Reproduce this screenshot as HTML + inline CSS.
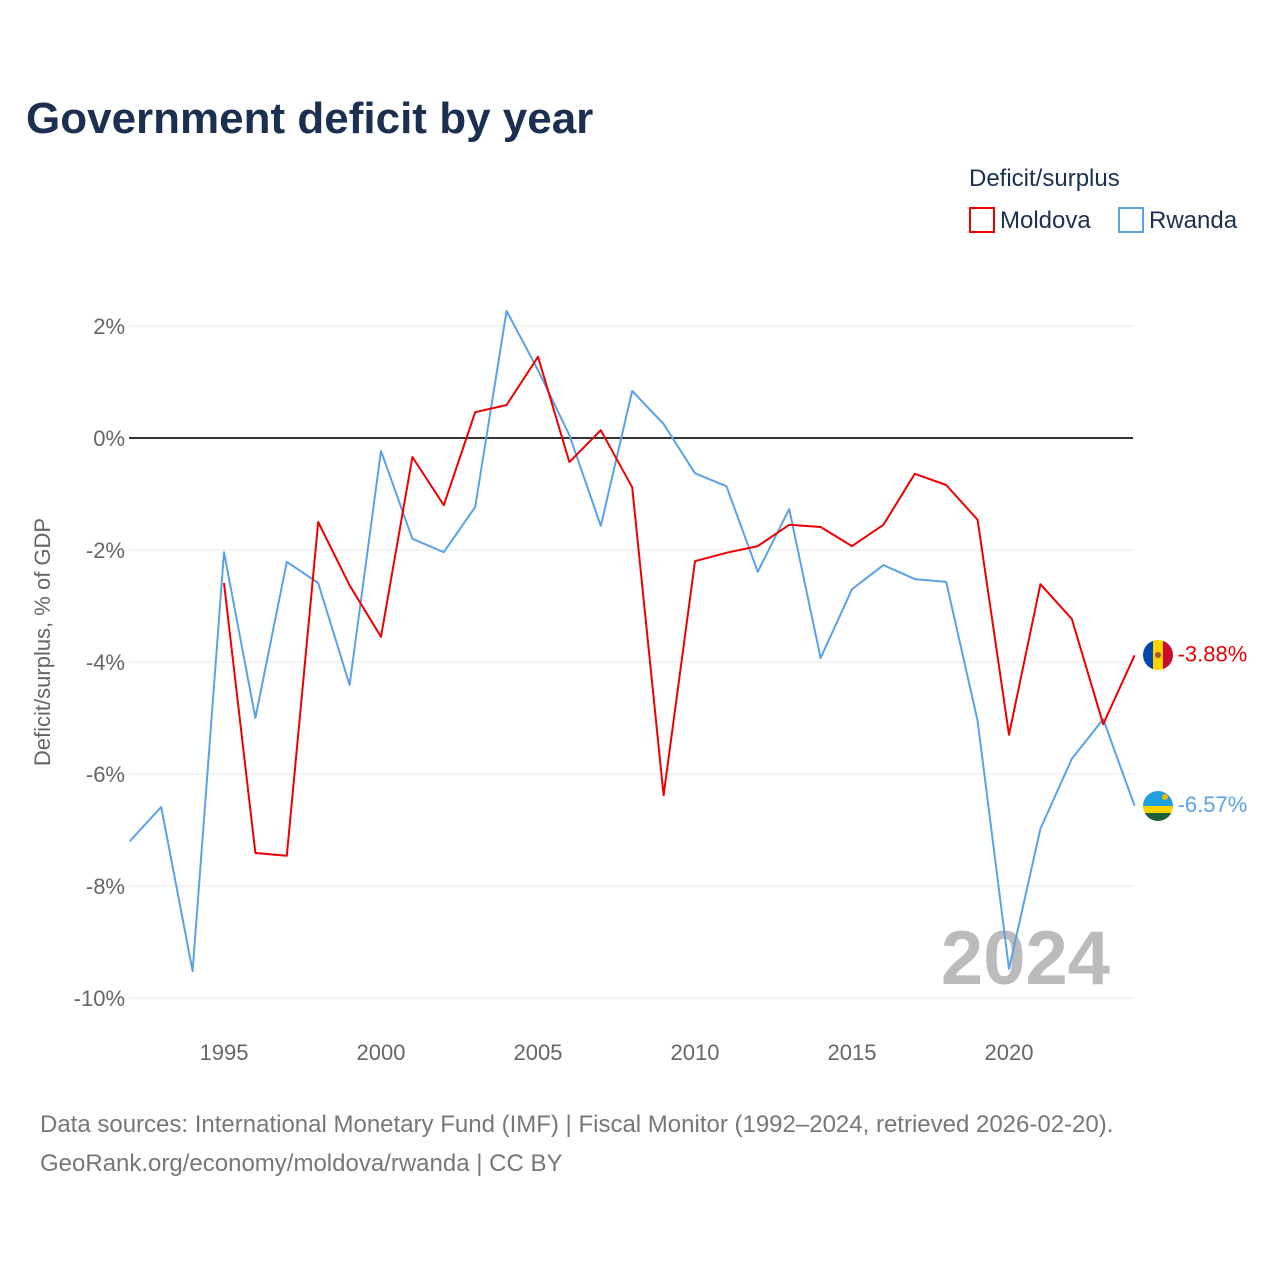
<!DOCTYPE html>
<html><head><meta charset="utf-8">
<style>
body{margin:0;background:#fff;font-family:"Liberation Sans",sans-serif;}
#wrap{position:relative;width:1280px;height:1280px;overflow:hidden;}
</style></head>
<body>
<div id="wrap">
<svg id="chart" width="1280" height="1280" xmlns="http://www.w3.org/2000/svg">
<defs>
<clipPath id="cm"><circle cx="1158" cy="655" r="15"/></clipPath>
<clipPath id="cr"><circle cx="1158" cy="806" r="15"/></clipPath>
</defs>
<text x="26" y="133" font-size="44" font-weight="bold" fill="#1b3050">Government deficit by year</text>
<text x="969" y="186" font-size="24" fill="#1b3050">Deficit/surplus</text>
<g><rect x="970" y="208" width="24" height="24" fill="none" stroke="#ee0000" stroke-width="2"/><text x="1000" y="228" font-size="24" fill="#1b3050">Moldova</text></g>
<g><rect x="1119" y="208" width="24" height="24" fill="none" stroke="#5aa2e8" stroke-width="2"/><text x="1149" y="228" font-size="24" fill="#1b3050">Rwanda</text></g>
<text transform="translate(50,642) rotate(-90)" text-anchor="middle" font-size="22" fill="#666">Deficit/surplus, % of GDP</text>
<g id="grid"></g>
<text x="1110" y="984" text-anchor="end" font-size="76" font-weight="bold" fill="#bbb">2024</text>
<g id="series"></g>
<g clip-path="url(#cm)">
<rect x="1143" y="640" width="10" height="30" fill="#0046ae"/><rect x="1153" y="640" width="10" height="30" fill="#ffd200"/><rect x="1163" y="640" width="10" height="30" fill="#cc092f"/>
<circle cx="1158" cy="655" r="3" fill="#a05a2c"/></g>
<g clip-path="url(#cr)">
<rect x="1143" y="791" width="30" height="15" fill="#20a0de"/><rect x="1143" y="806" width="30" height="7" fill="#fad201"/><rect x="1143" y="813" width="30" height="8" fill="#20603d"/>
<circle cx="1165" cy="797" r="3" fill="#e5be01"/></g>
<text x="40" y="1132" font-size="24" fill="#777">Data sources: International Monetary Fund (IMF) | Fiscal Monitor (1992–2024, retrieved 2026-02-20).</text>
<text x="40" y="1171" font-size="24" fill="#777">GeoRank.org/economy/moldova/rwanda | CC BY</text>
</svg>
</div>
<script>
const yTicks=[2,0,-2,-4,-6,-8,-10];
const xTicks=[1995,2000,2005,2010,2015,2020];
const rwandaYears=[1992,1993,1994,1995,1996,1997,1998,1999,2000,2001,2002,2003,2004,2005,2006,2007,2008,2009,2010,2011,2012,2013,2014,2015,2016,2017,2018,2019,2020,2021,2022,2023,2024];
const rwanda=[-7.2,-6.59,-9.52,-2.04,-5.0,-2.21,-2.59,-4.41,-0.23,-1.80,-2.04,-1.23,2.27,1.21,0.05,-1.57,0.84,0.25,-0.63,-0.86,-2.39,-1.27,-3.93,-2.70,-2.27,-2.52,-2.57,-5.05,-9.48,-6.98,-5.73,-5.02,-6.57];
const moldovaYears=[1995,1996,1997,1998,1999,2000,2001,2002,2003,2004,2005,2006,2007,2008,2009,2010,2011,2012,2013,2014,2015,2016,2017,2018,2019,2020,2021,2022,2023,2024];
const moldova=[-2.59,-7.41,-7.46,-1.5,-2.63,-3.55,-0.34,-1.2,0.46,0.59,1.45,-0.43,0.14,-0.88,-6.38,-2.2,-2.05,-1.93,-1.55,-1.59,-1.93,-1.55,-0.64,-0.84,-1.46,-5.30,-2.61,-3.23,-5.11,-3.88];
const NS='http://www.w3.org/2000/svg';
const X=y=>129.8+(y-1992)*31.4;
const Y=v=>438-v*56;
const grid=document.getElementById('grid');
function mk(t,a,p){const e=document.createElementNS(NS,t);for(const k in a)e.setAttribute(k,a[k]);p.appendChild(e);return e;}
yTicks.forEach(v=>{
 const l=mk('line',{x1:129,x2:1133,y1:Y(v),y2:Y(v),stroke:v===0?'#333':'#e8e8e8','stroke-width':v===0?2:1},grid);
 
 
 const t=mk('text',{x:125,y:Y(v)+8,'text-anchor':'end','font-size':22,fill:'#666'},grid);
 t.textContent=v+'%';
 
 
});
xTicks.forEach(y=>{
 const t=mk('text',{x:X(y),y:1060,'text-anchor':'middle','font-size':22,fill:'#666'},grid);
 t.textContent=y;
 
 
});
const sg=document.getElementById('series');
function line(years,vals,color,name){
 const d=years.map((y,i)=>(i?'L':'M')+X(y).toFixed(1)+','+Y(vals[i]).toFixed(1)).join(' ');
 const p=mk('path',{d:d,fill:'none',stroke:color,'stroke-width':2,'stroke-linejoin':'round'},sg);
 
 
 const lx=X(years[years.length-1])+24, ly=Y(vals[vals.length-1]);
 const t=mk('text',{x:lx+19,y:ly+6,'font-size':22,fill:color},sg);
 t.textContent=vals[vals.length-1].toFixed(2)+'%';
 
 
}
line(rwandaYears,rwanda,'#5aa2e8','rwanda');
line(moldovaYears,moldova,'#ee0000','moldova');
</script>
</body></html>
